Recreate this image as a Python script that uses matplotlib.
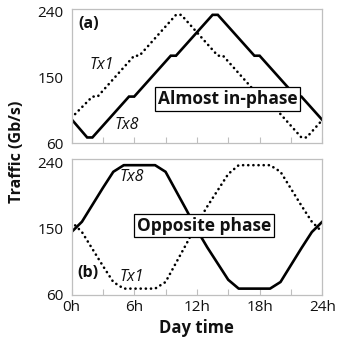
import matplotlib
matplotlib.use("Agg")
import matplotlib.pyplot as plt

# ---- data ----
# panel (a): almost in-phase
hours_a_tx8 = [0, 1.5, 2.0, 5.5, 6.0, 9.5, 10.0, 13.5, 14.0, 17.5, 18.0, 21.5, 22.0, 24]
tx8_a = [93, 68, 68, 124, 124, 180, 180, 236, 236, 180, 180, 124, 124, 92]
hours_a_tx1 = [0, 2.0, 2.5, 6.0, 6.5, 10.0, 10.5, 14.0, 14.5, 18.0, 18.5, 22.0, 22.5, 24]
tx1_a = [95, 124, 124, 180, 180, 236, 236, 180, 180, 124, 124, 68, 68, 92]

# panel (b): opposite phase (hourly)
hours_b = list(range(25))
tx8_b = [145, 159, 182, 205, 227, 236, 236, 236, 236, 227, 201, 175, 148,
         124, 102, 80, 68, 68, 68, 68, 77, 100, 123, 145, 159]
tx1_b = [159, 145, 122, 99, 77, 68, 68, 68, 68, 77, 103, 129, 156,
         180, 202, 224, 236, 236, 236, 236, 227, 204, 181, 159, 145]

yticks = [60, 150, 240]
xticks = [0, 6, 12, 18, 24]
xticklabels = ["0h", "6h", "12h", "18h", "24h"]
minor_xticks = [3, 9, 15, 21]

plt.rcParams['font.family'] = ['Open Sans', 'DejaVu Sans']

W, H = 337, 340
fig = plt.figure(figsize=(W / 100, H / 100), dpi=100)

left = 71.5 / W
width = (322.3 - 71.5) / W
ax1 = fig.add_axes([left, 1 - 143.3 / H, width, (143.3 - 9) / H])
ax2 = fig.add_axes([left, 1 - 294.5 / H, width, (294.5 - 159.3) / H])

grey = '#bfbfbf'
txtc = '#111111'
lw = 1.9
dotted = (0, (0.05, 1.9))

for ax in (ax1, ax2):
    ax.set_xlim(0, 24)
    ax.set_ylim(60, 244)
    ax.set_yticks(yticks)
    ax.set_yticklabels([str(v) for v in yticks])
    ax.set_xticks(xticks)
    ax.set_xticks(minor_xticks, minor=True)
    for s in ax.spines.values():
        s.set_color(grey)
        s.set_linewidth(0.9)
    ax.tick_params(axis='y', length=0, pad=6, labelsize=11, labelcolor=txtc)
    ax.tick_params(axis='x', which='both', direction='in', length=4, width=0.8,
                   color=grey, top=False, labelsize=11, labelcolor=txtc, pad=4)

ax1.set_xticklabels([""] * len(xticks))
ax2.set_xticklabels(xticklabels)

# panel (a)
ax1.plot(hours_a_tx1, tx1_a, color='black', lw=lw, linestyle=dotted,
         dash_capstyle='round')
ax1.plot(hours_a_tx8, tx8_a, color='black', lw=lw, solid_joinstyle='miter')
ax1.text(0.026, 0.885, "(a)", transform=ax1.transAxes, fontsize=11.5,
         fontweight='bold', ha='left', va='center', color=txtc)
ax1.text(0.072, 0.585, "Tx1", transform=ax1.transAxes, fontsize=11.5,
         style='italic', ha='left', va='center', color=txtc)
ax1.text(0.172, 0.135, "Tx8", transform=ax1.transAxes, fontsize=11.5,
         style='italic', ha='left', va='center', color=txtc)
ax1.text(0.622, 0.33, "Almost in-phase", transform=ax1.transAxes, fontsize=12.5,
         fontweight='bold', ha='center', va='center', color=txtc,
         bbox=dict(boxstyle='square,pad=0.15', fc='white', ec='black', lw=0.9))

# panel (b)
ax2.plot(hours_b, tx1_b, color='black', lw=lw, linestyle=dotted,
         dash_capstyle='round')
ax2.plot(hours_b, tx8_b, color='black', lw=lw)
ax2.text(0.022, 0.16, "(b)", transform=ax2.transAxes, fontsize=11.5,
         fontweight='bold', ha='left', va='center', color=txtc)
ax2.text(0.19, 0.87, "Tx8", transform=ax2.transAxes, fontsize=11.5,
         style='italic', ha='left', va='center', color=txtc)
ax2.text(0.19, 0.13, "Tx1", transform=ax2.transAxes, fontsize=11.5,
         style='italic', ha='left', va='center', color=txtc)
ax2.text(0.528, 0.51, "Opposite phase", transform=ax2.transAxes, fontsize=12.5,
         fontweight='bold', ha='center', va='center', color=txtc,
         bbox=dict(boxstyle='square,pad=0.15', fc='white', ec='black', lw=0.9))

ax2.set_xlabel("Day time", fontsize=12, fontweight='bold', color=txtc, labelpad=3)

fig.text(17 / W, 1 - 152 / H, "Traffic (Gb/s)", rotation=90, fontsize=11.5,
         fontweight='bold', ha='center', va='center', color=txtc)

fig.savefig("out.png", dpi=100)
